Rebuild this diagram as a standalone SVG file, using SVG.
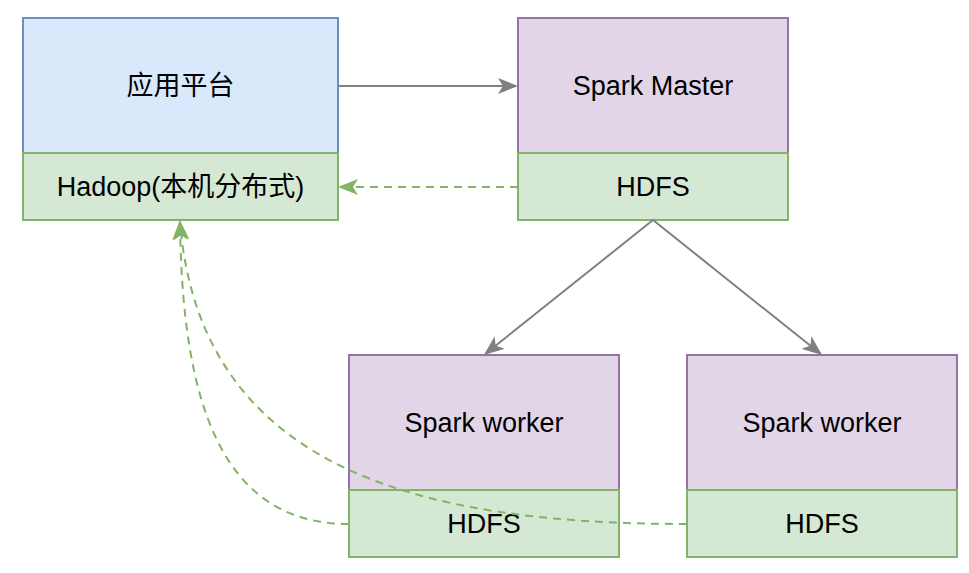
<svg xmlns="http://www.w3.org/2000/svg" width="969" height="573" viewBox="0 0 969 573">
<defs>
<style>
.blue{fill:#dae8fc;stroke:#6c8ebf;stroke-width:2}
.purple{fill:#e1d5e7;stroke:#9673a6;stroke-width:2}
.green{fill:#d5e8d4;stroke:#82b366;stroke-width:2}
text{font-family:"Liberation Sans","Noto Sans CJK SC",sans-serif;font-size:27px;fill:#000;text-anchor:middle;dominant-baseline:central}
.solid{fill:none;stroke:#808080;stroke-width:2}
.dash{fill:none;stroke:#82b366;stroke-width:2;stroke-dasharray:8 6}
</style>
<marker id="ag" viewBox="0 0 20 16" refX="18" refY="8" markerWidth="20" markerHeight="16" markerUnits="userSpaceOnUse" orient="auto">
<path d="M0,0 L20,8 L0,16 L5,8 Z" fill="#808080"/>
</marker>
<marker id="agr" viewBox="0 0 20 16" refX="18" refY="8" markerWidth="20" markerHeight="16" markerUnits="userSpaceOnUse" orient="auto">
<path d="M0,0 L20,8 L0,16 L5,8 Z" fill="#82b366"/>
</marker>
</defs>
<g id="app">
<rect class="blue" x="23" y="18" width="315" height="135"/>
<text x="180.5" y="86">应用平台</text>
</g>
<g id="hadoop">
<rect class="green" x="23" y="153" width="315" height="67"/>
<text x="180.5" y="187">Hadoop(本机分布式)</text>
</g>
<g id="master">
<rect class="purple" x="518" y="18" width="270" height="135"/>
<text x="653" y="86">Spark Master</text>
</g>
<g id="master-hdfs">
<rect class="green" x="518" y="153" width="270" height="67"/>
<text x="653" y="187">HDFS</text>
</g>
<g id="worker1">
<rect class="purple" x="349" y="355" width="270" height="135"/>
<text x="484" y="423">Spark worker</text>
</g>
<g id="worker1-hdfs">
<rect class="green" x="349" y="490" width="270" height="67"/>
<text x="484" y="524">HDFS</text>
</g>
<g id="worker2">
<rect class="purple" x="687" y="355" width="270" height="135"/>
<text x="822" y="423">Spark worker</text>
</g>
<g id="worker2-hdfs">
<rect class="green" x="687" y="490" width="270" height="67"/>
<text x="822" y="524">HDFS</text>
</g>
<g id="connectors">
<path class="solid" d="M338,86 L516,86" marker-end="url(#ag)"/>
<path class="dash" d="M518,187 L340,187" marker-end="url(#agr)"/>
<path class="solid" d="M653,220 L485.5,353.8" marker-end="url(#ag)"/>
<path class="solid" d="M653,220 L820.5,353.8" marker-end="url(#ag)"/>
<path class="dash" d="M349,524 C220,524 182,400 180,222" marker-end="url(#agr)"/>
<path class="dash" d="M687,524 C420,524 200,470 180,222" marker-end="url(#agr)"/>
</g>
</svg>
